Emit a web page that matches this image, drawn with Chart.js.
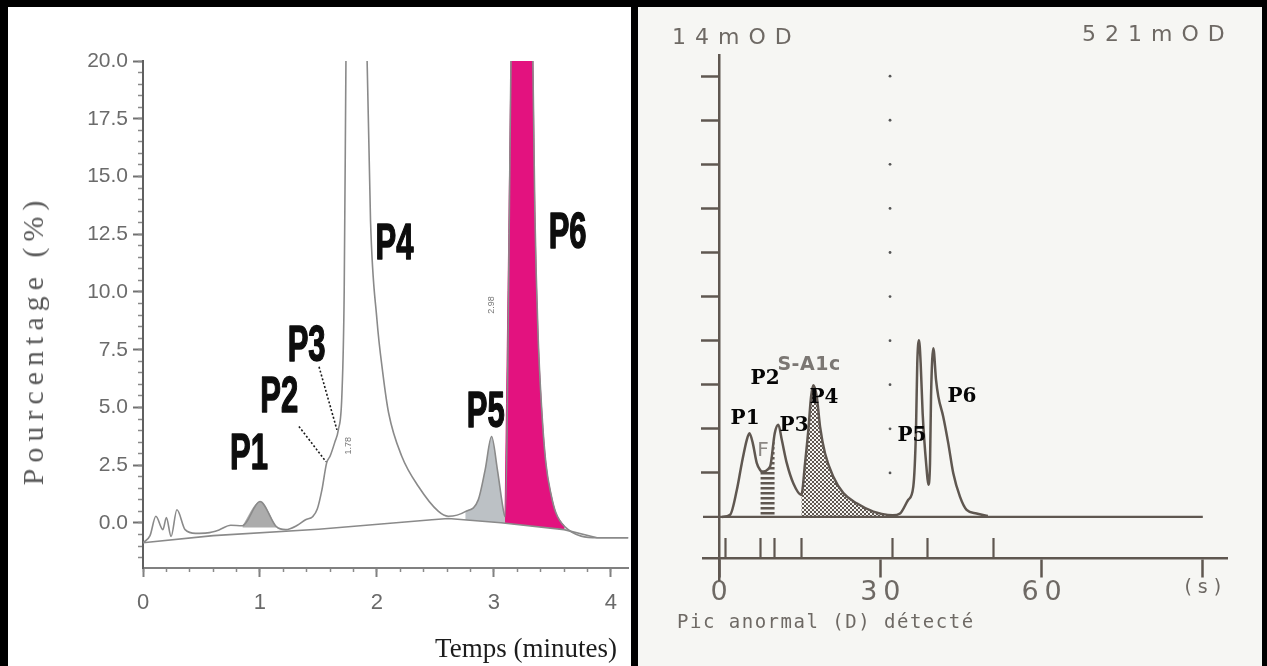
<!DOCTYPE html>
<html lang="fr">
<head>
<meta charset="utf-8">
<title>Chromatogrammes HbA1c</title>
<script src="https://cdn.jsdelivr.net/npm/chart.js@4.4.1/dist/chart.umd.min.js"></script>
<style>
  html, body { margin: 0; padding: 0; }
  body { width: 1267px; height: 666px; background: #000; position: relative; overflow: hidden; }
  .panel { position: absolute; top: 7px; height: 659px; overflow: hidden; }
  #hplc { left: 8px; width: 623px; background: #fff; filter: blur(0.5px); }
  #capillaire { left: 638px; width: 624px; background: #f6f6f3; }
  .panel canvas { position: absolute; left: 0; top: 0; }
  .lbl { position: absolute; white-space: nowrap; line-height: 1; }
  #axeY { left: 25px; top: 333px; transform: translate(-50%, -50%) rotate(-90deg); font: 30px 'Liberation Serif', serif; letter-spacing: 6px; color: #5a5a5a; }
  #axeX { left: 518px; top: 641px; transform: translate(-50%, -50%); font: 27px 'Liberation Serif', serif; color: #1c1c1c; }
  .printer { font-family: 'DejaVu Sans', sans-serif; color: #6e6964; }
  #odMin { left: 34px; top: 19px; font-size: 22px; letter-spacing: 9px; }
  #odMax { left: 444px; top: 16px; font-size: 22px; letter-spacing: 9px; }
  #message { left: 39px; top: 605px; font-family: 'DejaVu Sans Mono', monospace; font-size: 19px; letter-spacing: 1.5px; }
</style>
</head>
<body>
<div class="panel" id="hplc">
  <canvas id="hplcChart" width="623" height="659"></canvas>
  <div class="lbl" id="axeY">Pourcentage (%)</div>
  <div class="lbl" id="axeX">Temps (minutes)</div>
</div>
<div class="panel" id="capillaire">
  <canvas id="ceChart" width="624" height="659"></canvas>
  <div class="lbl printer" id="odMin">14mOD</div>
  <div class="lbl printer" id="odMax">521mOD</div>
  <div class="lbl printer" id="message">Pic anormal (D) détecté</div>
</div>
<script>
// HPLC trace (minutes / %)
let hplcTime = [0, 0.06, 0.11, 0.17, 0.2, 0.24, 0.29, 0.36, 0.45, 0.55, 0.65, 0.75, 0.85, 1.0, 1.14, 1.22, 1.32, 1.39, 1.45, 1.49,
  1.53, 1.57, 1.6, 1.64, 1.67, 1.7, 1.72, 1.735, 1.8, 1.916, 1.945, 2.0, 2.05, 2.1, 2.213, 2.355, 2.526, 2.61, 2.755, 2.866, 2.925,
  2.98, 3.03, 3.08, 3.095, 3.146, 3.22, 3.333, 3.35, 3.376, 3.41, 3.444, 3.49, 3.529, 3.605, 3.886, 4.15]
let hplcSignal = [-0.86, -0.55, 0.29, -0.29, 0.23, -0.58, 0.57, -0.29, -0.45, -0.43, -0.3, -0.1, -0.12, 0.93, -0.16, -0.29, -0.1, 0.14, 0.27, 0.6,
  1.44, 2.6, 2.9, 3.5, 4.03, 5.5, 10, 20, 60, 20, 13.1, 8.8, 6.5, 4.76, 2.88, 1.58, 0.5, 0.29, 0.49, 1.0, 2.3,
  3.74, 2.3, 0.58, 0.27, 20, 50, 20, 13.5, 8.35, 4.8, 2.6, 1.2, 0.45, -0.16, -0.64, -0.64]
let hplcBaseTime = [0, 0.6, 1.5, 2.47, 2.61, 3.06, 3.6, 3.88, 4.15]
let hplcBaseSignal = [-0.86, -0.55, -0.27, 0.14, 0.19, 0.01, -0.29, -0.64, -0.64]
let hplcYTicks = [0, 2.5, 5, 7.5, 10, 12.5, 15, 17.5, 20]
let hplcXTicks = [0, 1, 2, 3, 4]
let hplcPeakNames = ['P1', 'P2', 'P3', 'P4', 'P5', 'P6']
let hplcPeakTime = [0.906, 1.165, 1.399, 2.15, 2.93, 3.63]
let hplcPeakLevel = [2.95, 5.4, 7.6, 12.03, 4.73, 12.5]
let hplcRetNames = ['1.78', '2.98']
let hplcRetTime = [1.76, 2.976]
let hplcRetLevel = [3.34, 9.44]
let leaderP2Time = [1.333, 1.565]
let leaderP2Level = [4.18, 2.65]
let leaderP3Time = [1.505, 1.658]
let leaderP3Level = [6.76, 4.03]

// electrophorese capillaire (s / mOD)
let ceTime = [0.56, 2.05, 3.29, 4.22, 5.15, 5.64, 6.27, 7.01, 7.67, 7.94, 9.48, 10.35, 11.03, 11.66, 12.59, 13.82, 15.3, 15.99, 16.6, 17.11,
  17.53, 18.17, 18.78, 19.71, 21.25, 23.11, 25.6, 28.7, 30.25, 32.3, 33.66, 35.2, 36.13, 36.63, 36.87, 37.19, 37.5, 37.87, 38.62, 38.92,
  39.24, 39.43, 39.86, 40.36, 40.79, 41.71, 42.64, 43.57, 44.81, 46.05, 47.91, 50]
let ceSignal = [0, 0.05, 0.61, 1.22, 1.75, 1.9, 1.67, 1.22, 1.06, 1.03, 1.14, 1.9, 2.09, 1.75, 1.22, 0.76, 0.5, 1.22, 1.97, 2.73,
  2.99, 2.73, 2.05, 1.44, 0.91, 0.54, 0.31, 0.12, 0.07, 0.04, 0.08, 0.39, 0.69, 1.97, 3.49, 4.01, 3.49, 2.35, 1.07, 0.73,
  1.22, 2.73, 3.83, 3.11, 2.73, 2.27, 1.67, 0.99, 0.46, 0.16, 0.08, 0.02]
let ceBaseTime = [-3.4, 90]
let ceBaseSignal = [0, 0]
let ceMarks = [1.24, 7.67, 10.35, 15.27, 32.3, 38.85, 50.96]
let ceXTicks = [0, 30, 60, 90]
let ceXLabels = ['0', '30', '60', '(s)']
let ceYTicks = [1, 2, 3, 4, 5, 6, 7, 8, 9, 10]
let ceDotTime = 31.8
let cePeakNames = ['P1', 'P2', 'P3', 'P4', 'P5', 'P6']
let cePeakTime = [4.83, 8.55, 13.95, 19.52, 35.89, 45.18]
let cePeakLevel = [2.22, 3.13, 2.07, 2.71, 1.84, 2.72]

const toPoints = (xs, ys) => xs.map((x, i) => ({ x, y: ys[i] }))
const slice = (xs, ys, from, to) => toPoints(xs, ys).filter(p => p.x >= from && p.x <= to)
const setTicks = values => scale => { scale.ticks = values.map(value => ({ value })) }
const range = (from, to, step) => {
  let out = []
  for (let v = from; v <= to + 1e-9; v += step) out.push(+v.toFixed(3))
  return out
}

// text placed in data coordinates
function labelPlugin(id, groups) {
  return {
    id,
    afterDatasetsDraw(chart) {
      let ctx = chart.ctx
      let x = chart.scales.x
      let y = chart.scales.y
      groups.forEach(g => {
        g.names.forEach((text, i) => {
          ctx.save()
          ctx.letterSpacing = (g.spacing || 0) + 'px'
          ctx.font = g.font
          ctx.fillStyle = g.color
          ctx.translate(x.getPixelForValue(g.time[i]), y.getPixelForValue(g.level[i]))
          if (g.rotate) ctx.rotate(g.rotate)
          ctx.scale(g.scaleX || 1, 1)
          ctx.textAlign = 'center'
          ctx.textBaseline = 'middle'
          if (g.stroke) {
            ctx.lineWidth = g.stroke
            ctx.strokeStyle = g.color
            ctx.lineJoin = 'round'
            ctx.strokeText(text, 0, 0)
          }
          ctx.fillText(text, 0, 0)
          ctx.restore()
        })
      })
    }
  }
}

Chart.defaults.animation = false
Chart.defaults.events = []
Chart.defaults.plugins.legend.display = false
Chart.defaults.plugins.tooltip.enabled = false

// ---------- left: HPLC ----------
let grey = '#8a8a8a'
let smooth = 'monotone'
new Chart(document.getElementById('hplcChart'), {
  type: 'line',
  data: {
    datasets: [
      { data: toPoints(hplcTime, hplcSignal), borderColor: grey, borderWidth: 1.6, pointRadius: 0, cubicInterpolationMode: smooth, order: 1 },
      { data: toPoints(hplcBaseTime, hplcBaseSignal), borderColor: grey, borderWidth: 1.6, pointRadius: 0, order: 2 },
      { data: slice(hplcTime, hplcSignal, 0.85, 1.14), fill: { value: -0.2 }, backgroundColor: '#acacac', borderWidth: 0, pointRadius: 0, cubicInterpolationMode: smooth, order: 3 },
      { data: slice(hplcTime, hplcSignal, 2.755, 3.095), fill: 1, backgroundColor: '#bcc1c5', borderWidth: 0, pointRadius: 0, cubicInterpolationMode: smooth, order: 3 },
      { data: slice(hplcTime, hplcSignal, 3.095, 3.605), fill: 1, backgroundColor: '#e3127f', borderColor: '#e3127f', borderWidth: 1, pointRadius: 0, cubicInterpolationMode: smooth, order: 3 },
      { data: toPoints(leaderP2Time, leaderP2Level), borderColor: '#1a1a1a', borderWidth: 1.6, borderDash: [2, 2], pointRadius: 0, order: 0 },
      { data: toPoints(leaderP3Time, leaderP3Level), borderColor: '#1a1a1a', borderWidth: 1.6, borderDash: [2, 2], pointRadius: 0, order: 0 }
    ]
  },
  options: {
    responsive: false,
    devicePixelRatio: 1,
    layout: { padding: { left: 0, right: 0, top: 54, bottom: 98 } },
    scales: {
      x: {
        type: 'linear', position: { y: -1.95 }, min: 0, max: 4.15, bounds: 'data',
        afterBuildTicks: setTicks(hplcXTicks),
        grid: { drawOnChartArea: false, tickLength: 8, tickWidth: 2, tickColor: '#808080' },
        border: { color: '#808080', width: 2 },
        ticks: { autoSkip: false, maxRotation: 0, padding: 14, color: '#6a6a6a', font: { family: 'Liberation Sans', size: 22 }, callback: v => String(v) }
      },
      xMinor: {
        type: 'linear', axis: 'x', position: { y: -1.95 }, min: 0, max: 4.15, bounds: 'data',
        afterBuildTicks: setTicks(range(0, 4.1, 0.2)),
        grid: { drawOnChartArea: false, tickLength: 4, tickWidth: 1.5, tickColor: '#8a8a8a' },
        border: { display: false },
        ticks: { display: false }
      },
      y: {
        type: 'linear', position: 'left', min: -1.95, max: 20, bounds: 'data',
        afterBuildTicks: setTicks(hplcYTicks),
        afterFit: s => { s.width = 135 },
        grid: { drawOnChartArea: false, tickLength: 10, tickWidth: 2, tickColor: '#707070' },
        border: { color: '#606060', width: 2 },
        ticks: { padding: 5, color: '#6b6b6b', font: { family: 'Liberation Sans', size: 21 }, callback: v => v.toFixed(1) }
      },
      yMinor: {
        type: 'linear', axis: 'y', position: { x: 0 }, min: -1.95, max: 20, bounds: 'data',
        afterBuildTicks: setTicks(range(-1.5, 20, 0.5)),
        grid: { drawOnChartArea: false, tickLength: 5, tickWidth: 1.5, tickColor: '#8a8a8a' },
        border: { display: false },
        ticks: { display: false }
      }
    }
  },
  plugins: [labelPlugin('hplcLabels', [
    { names: hplcPeakNames, time: hplcPeakTime, level: hplcPeakLevel, font: 'bold 50px "Liberation Sans"', color: '#0d0d0d', scaleX: 0.62, stroke: 1.5 },
    { names: hplcRetNames, time: hplcRetTime, level: hplcRetLevel, font: '9px "Liberation Sans"', color: '#777', rotate: -Math.PI / 2 }
  ])]
})

// ---------- right: capillary electrophoresis ----------
let ink = '#5f5750'

function stripes() {
  let c = document.createElement('canvas')
  c.width = 6
  c.height = 5
  let g = c.getContext('2d')
  g.fillStyle = ink
  g.fillRect(0, 0, 6, 2.5)
  return g.createPattern(c, 'repeat')
}

function checker() {
  let c = document.createElement('canvas')
  c.width = 4
  c.height = 4
  let g = c.getContext('2d')
  g.fillStyle = ink
  g.fillRect(0, 0, 2, 2)
  g.fillRect(2, 2, 2, 2)
  return g.createPattern(c, 'repeat')
}

const printerSpacing = {
  id: 'printerSpacing',
  beforeDraw(chart) { chart.ctx.letterSpacing = '6px' }
}

new Chart(document.getElementById('ceChart'), {
  type: 'line',
  data: {
    datasets: [
      { data: toPoints(ceTime, ceSignal), borderColor: ink, borderWidth: 2.5, pointRadius: 0, cubicInterpolationMode: smooth, order: 1 },
      { data: toPoints(ceBaseTime, ceBaseSignal), borderColor: ink, borderWidth: 2.2, pointRadius: 0, order: 2 },
      { data: slice(ceTime, ceSignal, 7.67, 10.35), fill: 'origin', backgroundColor: stripes(), borderWidth: 0, pointRadius: 0, cubicInterpolationMode: smooth, order: 3 },
      { data: slice(ceTime, ceSignal, 15.27, 32.3), fill: 'origin', backgroundColor: checker(), borderWidth: 0, pointRadius: 0, cubicInterpolationMode: smooth, order: 3 },
      { data: ceYTicks.map(v => ({ x: ceDotTime, y: v })), showLine: false, pointRadius: 1.4, pointBackgroundColor: '#555', pointBorderWidth: 0, order: 4 }
    ]
  },
  options: {
    responsive: false,
    devicePixelRatio: 1,
    layout: { padding: { left: 65, right: 35, top: 48, bottom: 86 } },
    scales: {
      x: {
        type: 'linear', position: { y: -0.93 }, min: -3, max: 94.5, bounds: 'data',
        afterBuildTicks: setTicks(ceXTicks),
        grid: { drawOnChartArea: false, tickLength: 18, tickWidth: 2.5, tickColor: ink },
        border: { color: ink, width: 2.5 },
        ticks: {
          autoSkip: false, maxRotation: 0, padding: 1, labelOffset: 3, color: '#6e6964',
          font: c => ({ family: 'DejaVu Sans', size: ceXLabels[c.index] === '(s)' ? 19 : 27 }),
          callback: (v, i) => ceXLabels[i]
        }
      },
      marks: {
        type: 'linear', axis: 'x', position: { y: -0.47 }, min: -3, max: 94.5, bounds: 'data',
        afterBuildTicks: setTicks(ceMarks),
        grid: { drawOnChartArea: false, tickLength: 19, tickWidth: 2.2, tickColor: ink },
        border: { display: false },
        ticks: { display: false }
      },
      y: {
        type: 'linear', position: { x: 0 }, min: -1.43, max: 10.48, bounds: 'data',
        afterBuildTicks: setTicks(ceYTicks),
        grid: { drawOnChartArea: false, tickLength: 17, tickWidth: 2.5, tickColor: ink },
        border: { color: ink, width: 2.5 },
        ticks: { display: false }
      }
    }
  },
  plugins: [printerSpacing, labelPlugin('ceLabels', [
    { names: cePeakNames, time: cePeakTime, level: cePeakLevel, font: 'bold 20px "DejaVu Serif"', color: '#050505' },
    { names: ['S-A1c'], time: [16.73], level: [3.45], font: 'bold 19px "DejaVu Sans"', color: '#7b7773', spacing: 0.5 },
    { names: ['F'], time: [8.18], level: [1.51], font: '20px "DejaVu Sans"', color: '#8c8884' }
  ])]
})
</script>
</body>
</html>
